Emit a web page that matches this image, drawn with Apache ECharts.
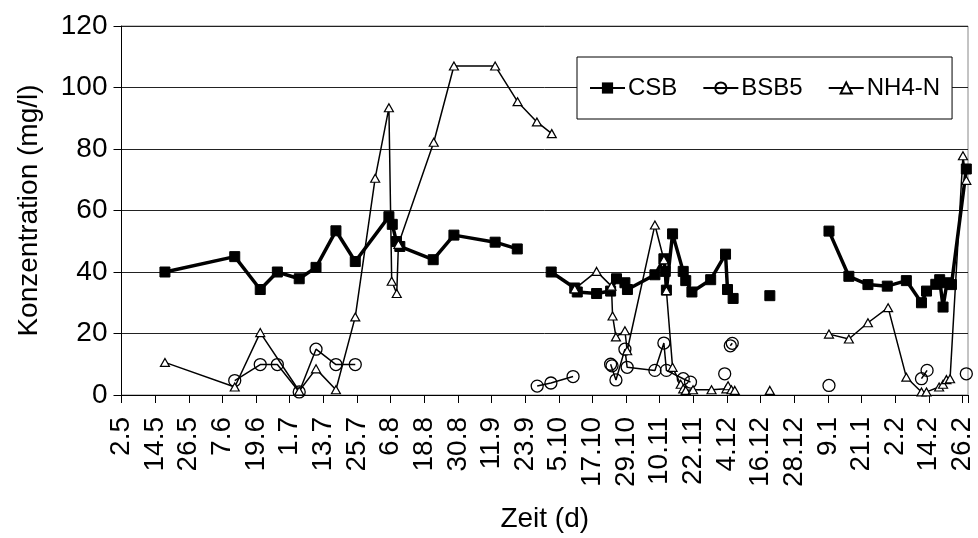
<!DOCTYPE html>
<html>
<head>
<meta charset="utf-8">
<script src="https://cdn.jsdelivr.net/npm/echarts@6/dist/echarts.min.js"></script>
<style>
html,body{margin:0;padding:0;background:#fff;}
#chart{width:978px;height:538px;}
</style>
</head>
<body>
<div id="chart"></div>
<script>
// x values: days since 2.5 (day 0)
var xTickLabels = ['2.5','14.5','26.5','7.6','19.6','1.7','13.7','25.7','6.8','18.8','30.8','11.9','23.9','5.10','17.10','29.10','10.11','22.11','4.12','16.12','28.12','9.1','21.1','2.2','14.2','26.2'];

var csbDay = [15.5,40.4,49.5,55.6,63.4,69.4,76.5,83.4,95.4,96.6,98.1,99.3,111.2,118.6,133.3,141.2,null,
  153.3,161.7,162.6,169.5,174.5,176.6,179.6,180.5,190.3,193.5,194.0,194.4,196.6,200.4,201.3,203.5,210.2,215.5,216.2,218.2,null,
  231.3,null,
  252.4,259.5,266.3,273.2,280.0,285.4,287.2,290.5,291.9,293.1,294.5,296.1,301.4];
var csbVal = [40,45,34.3,40,37.8,41.5,53.4,43.4,58,55.5,49.9,48.3,44,52,49.7,47.5,null,
  40,34.8,33.5,33,33.8,37.8,36.5,34.3,39.1,44.3,40.2,34.1,52.4,40.2,37.2,33.5,37.5,45.8,34.3,31.4,null,
  32.3,null,
  53.3,38.6,35.9,35.4,37.2,30,33.8,36,37.5,28.6,36.5,35.9,73.5];

var bsbDay = [40.4,49.5,55.6,63.4,69.4,76.5,83.4,null,
  148.3,153.2,161.1,null,
  174.5,175.0,176.4,179.6,180.4,190.3,193.5,194.4,200.4,203.0,null,
  215.2,null,217.2,217.9,null,
  252.4,null,285.4,287.4,null,301.4];
var bsbVal = [4.7,9.9,9.9,1,14.9,9.9,9.9,null,
  2.9,3.9,6,null,
  10,9.5,4.9,14.9,9,8,16.9,8,5.3,4.2,null,
  6.9,null,16,16.8,null,
  3.1,null,5.3,8,null,6.9];

var nh4Day = [15.5,40.4,49.5,63.4,69.4,76.5,83.4,90.5,95.4,96.4,98.2,98.8,111.4,118.6,133.3,141.3,148.2,153.5,null,
  161.7,169.5,174.8,175.2,176.4,179.6,180.4,190.3,193.5,194.4,196.6,199.5,200.4,201.3,203.9,210.5,215.8,216.4,217.6,218.8,null,
  231.3,null,
  252.4,259.5,266.3,273.5,280.0,285.4,287.2,291.7,293.1,294.3,295.6,300.2,301.4];
var nh4Val = [10.6,2.6,20.3,1.3,8.5,1.7,25.4,70.5,93.4,37,33,49,82.2,107,107,95.4,88.8,85,null,
  34.5,40.2,35.4,25.7,18.9,20.9,14.4,55.3,44,34,9,3.5,2,1.5,1.7,1.7,2,3,1.7,1.5,null,
  1.5,null,
  19.8,18.2,23.5,28.4,5.8,1,1,2.6,3.5,5,5.3,77.8,69.8];

function pairs(days, vals){
  return days.map(function(d,i){ return (d===null||vals[i]===null) ? ['-','-'] : [d, vals[i]]; });
}

var FONT = 'Liberation Sans, Arial, sans-serif';
var chart = echarts.init(document.getElementById('chart'), null, {renderer:'canvas'});
chart.setOption({
  animation:false,
  backgroundColor:'#fff',
  textStyle:{fontFamily:FONT, color:'#000'},
  grid:{left:121.5, right:10, top:26, bottom:140, show:true, borderColor:'#888', borderWidth:1, backgroundColor:'transparent'},
  legend:{
    left:577, top:57, orient:'horizontal',
    padding:[19,12,19,12], itemGap:25, itemWidth:35, itemHeight:14,
    borderColor:'#000', borderWidth:1, backgroundColor:'#fff',
    textStyle:{fontFamily:FONT, fontSize:24, color:'#000', padding:[0,0,0,-2]},
    data:['CSB','BSB5','NH4-N']
  },
  xAxis:{
    type:'value', min:0, max:302, interval:12,
    name:'Zeit (d)', nameLocation:'middle', nameGap:110,
    nameTextStyle:{fontFamily:FONT, fontSize:28, color:'#000'},
    axisLine:{show:true, onZero:false, lineStyle:{color:'#000', width:1}},
    axisTick:{show:true, inside:false, length:8, lineStyle:{color:'#000'}},
    axisLabel:{rotate:90, margin:22, fontFamily:FONT, fontSize:28, color:'#000',
      formatter:function(v){ var k=Math.round(v); return (k%12===0 && k/12<xTickLabels.length) ? xTickLabels[k/12] : ''; }},
    splitLine:{show:false}
  },
  yAxis:{
    type:'value', min:0, max:120, interval:20,
    name:'Konzentration (mg/l)', nameLocation:'middle', nameGap:78,
    nameTextStyle:{fontFamily:FONT, fontSize:28, color:'#000'},
    axisLine:{show:true, lineStyle:{color:'#000', width:1}},
    axisTick:{show:true, length:8, lineStyle:{color:'#000'}},
    axisLabel:{margin:14, fontFamily:FONT, fontSize:28, color:'#000'},
    splitLine:{show:true, lineStyle:{color:'#222', width:1}}
  },
  series:[
    {name:'CSB', type:'line', data:pairs(csbDay,csbVal), connectNulls:false, showAllSymbol:true,
     symbol:'rect', symbolSize:10, lineStyle:{color:'#000', width:3.5},
     itemStyle:{color:'#000', borderColor:'#000'}, z:3},
    {name:'BSB5', type:'line', data:pairs(bsbDay,bsbVal), connectNulls:false, showAllSymbol:true,
     symbol:'circle', symbolSize:12, lineStyle:{color:'#000', width:1.5},
     itemStyle:{color:'rgba(255,255,255,0)', borderColor:'#000', borderWidth:1.3}, z:4},
    {name:'NH4-N', type:'line', data:pairs(nh4Day,nh4Val), connectNulls:false, showAllSymbol:true,
     symbol:'triangle', symbolSize:[9,8], lineStyle:{color:'#000', width:1.5},
     itemStyle:{color:'#fff', borderColor:'#000', borderWidth:1.2}, z:5}
  ]
});
</script>
</body>
</html>
